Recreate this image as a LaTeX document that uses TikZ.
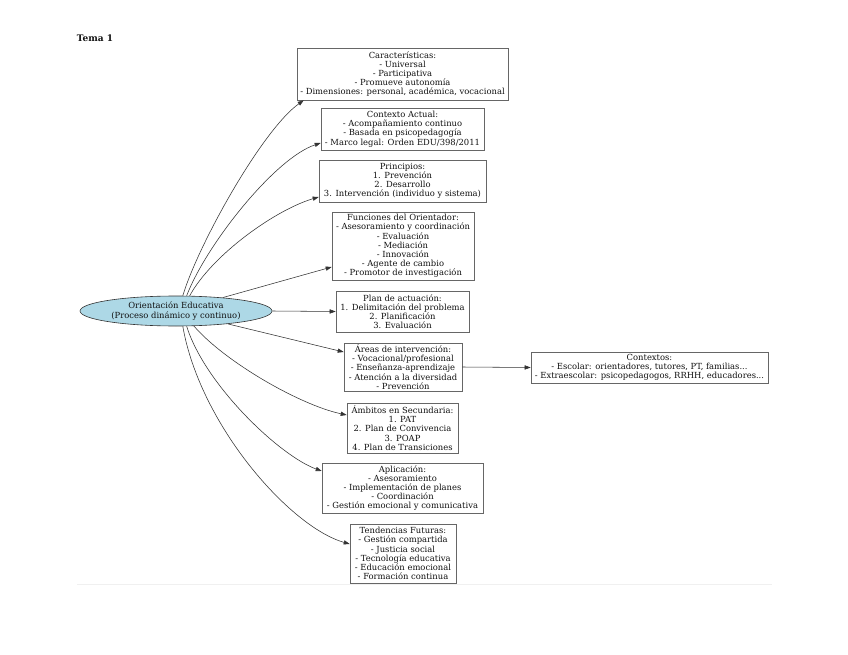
\documentclass[tikz,border=0pt]{standalone}
\usepackage{fontspec}
\setmainfont{DejaVu Serif}
\usetikzlibrary{shapes.geometric,arrows.meta,calc}
\definecolor{boxc}{HTML}{666666}
\definecolor{edgec}{HTML}{333333}
\definecolor{txt}{HTML}{111111}
\definecolor{ellfill}{HTML}{ADD8E6}
\definecolor{faint}{HTML}{F0F0F0}
\begin{document}
\begin{tikzpicture}[x=1pt,y=-1pt,
  box/.style={draw=boxc, line width=0.6pt, rectangle, inner sep=0pt, align=center,
    font=\fontsize{8.4}{9.2}\selectfont, text=txt},
  conn/.style={draw=edgec, line width=0.55pt, -{Triangle[length=6pt,width=4.2pt]}},
]
\useasboundingbox (0,0) rectangle (848,655);
\fill[white] (0,0) rectangle (848,655);

\node[font=\bfseries\fontsize{9}{10}\selectfont, text=txt] (title) at (95,38) {Tema 1};
\draw[faint, line width=1.5pt] (77,584.5) -- (772,584.5);

\node[ellipse, draw=edgec, fill=ellfill, line width=0.6pt, minimum width=192pt, minimum height=30pt,
  inner sep=0pt, align=center, font=\fontsize{8.4}{9.2}\selectfont, text=txt] (e) at (176,311)
  {Orientación Educativa\\(Proceso dinámico y continuo)};

\node[box, minimum width=211pt, minimum height=52pt] (b1) at (402.5,74)
  {Características:\\- Universal\\- Participativa\\- Promueve autonomía\\- Dimensiones: personal, académica, vocacional};
\node[box, minimum width=163pt, minimum height=42pt] (b2) at (402.5,129)
  {Contexto Actual:\\- Acompañamiento continuo\\- Basada en psicopedagogía\\- Marco legal: Orden EDU/398/2011};
\node[box, minimum width=167pt, minimum height=42pt] (b3) at (402.5,181)
  {Principios:\\1. Prevención\\2. Desarrollo\\3. Intervención (individuo y sistema)};
\node[box, minimum width=142pt, minimum height=68pt] (b4) at (403,246)
  {Funciones del Orientador:\\- Asesoramiento y coordinación\\- Evaluación\\- Mediación\\- Innovación\\- Agente de cambio\\- Promotor de investigación};
\node[box, minimum width=133pt, minimum height=41pt] (b5) at (402.5,311.5)
  {Plan de actuación:\\1. Delimitación del problema\\2. Planificación\\3. Evaluación};
\node[box, minimum width=118pt, minimum height=48pt] (b6) at (403,367)
  {Áreas de intervención:\\- Vocacional/profesional\\- Enseñanza-aprendizaje\\- Atención a la diversidad\\- Prevención};
\node[box, minimum width=111pt, minimum height=50pt] (b7) at (402.5,428)
  {Ámbitos en Secundaria:\\1. PAT\\2. Plan de Convivencia\\3. POAP\\4. Plan de Transiciones};
\node[box, minimum width=161pt, minimum height=50pt] (b8) at (402.5,488)
  {Aplicación:\\- Asesoramiento\\- Implementación de planes\\- Coordinación\\- Gestión emocional y comunicativa};
\node[box, minimum width=106pt, minimum height=59pt] (b9) at (403,553.5)
  {Tendencias Futuras:\\- Gestión compartida\\- Justicia social\\- Tecnología educativa\\- Educación emocional\\- Formación continua};
\node[box, minimum width=237pt, minimum height=31pt] (b10) at (649.5,367.5)
  {Contextos:\\- Escolar: orientadores, tutores, PT, familias...\\- Extraescolar: psicopedagogos, RRHH, educadores...};

\draw[conn] (e.66) .. controls (198,245) and (262,130) .. ($(b1.south west)+(7,0)$);
\draw[conn] (e.55) .. controls (206,245) and (275,158) .. ($(b2.west)+(0,14)$);
\draw[conn] (e.48) .. controls (212,255) and (275,210) .. ($(b3.west)+(0,16)$);
\draw[conn] (e.16) -- ($(b4.west)+(0,21)$);
\draw[conn] (e.east) -- (b5.west);
\draw[conn] (e.-14) -- ($(b6.west)+(0,-15)$);
\draw[conn] (e.-40) .. controls (225,362) and (300,405) .. ($(b7.west)+(0,-13)$);
\draw[conn] (e.-55) .. controls (205,385) and (280,456) .. ($(b8.west)+(0,-17)$);
\draw[conn] (e.-66) .. controls (200,425) and (290,527) .. ($(b9.west)+(0,-9.5)$);
\draw[conn] (b6.east) -- (b10.west);
\end{tikzpicture}
\end{document}
